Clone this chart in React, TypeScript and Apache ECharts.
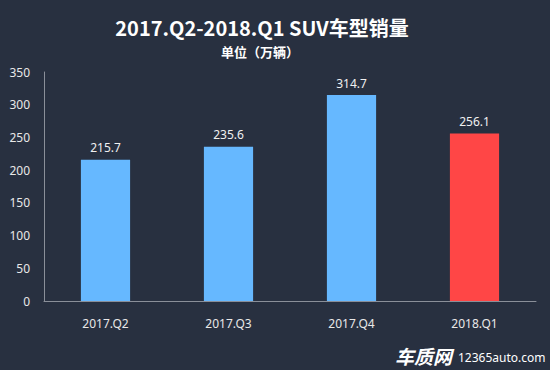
import React, { useEffect, useRef } from "react";
import * as echarts from "echarts";

const categories = ["2017.Q2", "2017.Q3", "2017.Q4", "2018.Q1"];
const salesValues = [215.7, 235.6, 314.7, 256.1];
const barColors = ["#66b8ff", "#66b8ff", "#66b8ff", "#ff4646"];
const titleText = "2017.Q2-2018.Q1 SUV车型销量";
const subtitleText = "单位（万辆）";

export default function App() {
  const ref = useRef<HTMLDivElement>(null);
  useEffect(() => {
    document.body.style.margin = "0";
    if (!ref.current) return;
    const chart = echarts.init(ref.current, undefined, { renderer: "svg" });
    const font = "'Noto Sans', 'Noto Sans CJK SC', sans-serif";
    const cjk = "'Noto Sans CJK SC', sans-serif";
    chart.setOption({
      animation: false,
      backgroundColor: "#283040",
      textStyle: { fontFamily: font },
      grid: { left: 44, right: 14, top: 72, bottom: 69 },
      xAxis: {
        type: "category",
        data: categories,
        axisLine: { lineStyle: { color: "#8a8f99", width: 1 } },
        axisTick: { show: false },
        axisLabel: { color: "#e8e8e8", fontSize: 12, margin: 16 },
      },
      yAxis: {
        type: "value",
        min: 0,
        max: 350,
        interval: 50,
        axisLine: { show: true, lineStyle: { color: "#8a8f99", width: 1 } },
        axisTick: { show: false },
        splitLine: { show: false },
        axisLabel: { color: "#e8e8e8", fontSize: 12, margin: 14 },
      },
      series: [
        {
          type: "bar",
          barWidth: "40%",
          data: salesValues.map((v, i) => ({ value: v, itemStyle: { color: barColors[i] } })),
          label: { show: true, position: "top", color: "#f0f0f0", fontSize: 12, distance: 6 },
        },
      ],
      graphic: [
        {
          type: "text",
          x: 262,
          y: 27,
          style: { text: titleText, fill: "#ffffff", fontSize: 20, fontWeight: "bold", fontFamily: cjk, align: "center", verticalAlign: "middle" },
        },
        {
          type: "text",
          x: 260,
          y: 51,
          style: { text: subtitleText, fill: "#ffffff", fontSize: 13, fontWeight: "bold", fontFamily: cjk, align: "center", verticalAlign: "middle" },
        },
        {
          type: "text",
          x: 395,
          y: 355,
          style: { text: "车质网", fill: "#ffffff", fontSize: 19, fontWeight: "bold", fontStyle: "italic", fontFamily: cjk, verticalAlign: "middle" },
        },
        {
          type: "text",
          x: 458,
          y: 357,
          style: { text: "12365auto.com", fill: "#ffffff", fontSize: 12, fontFamily: font, verticalAlign: "middle" },
        },
      ],
    });
    return () => chart.dispose();
  }, []);
  return <div ref={ref} style={{ width: 550, height: 370 }} />;
}
